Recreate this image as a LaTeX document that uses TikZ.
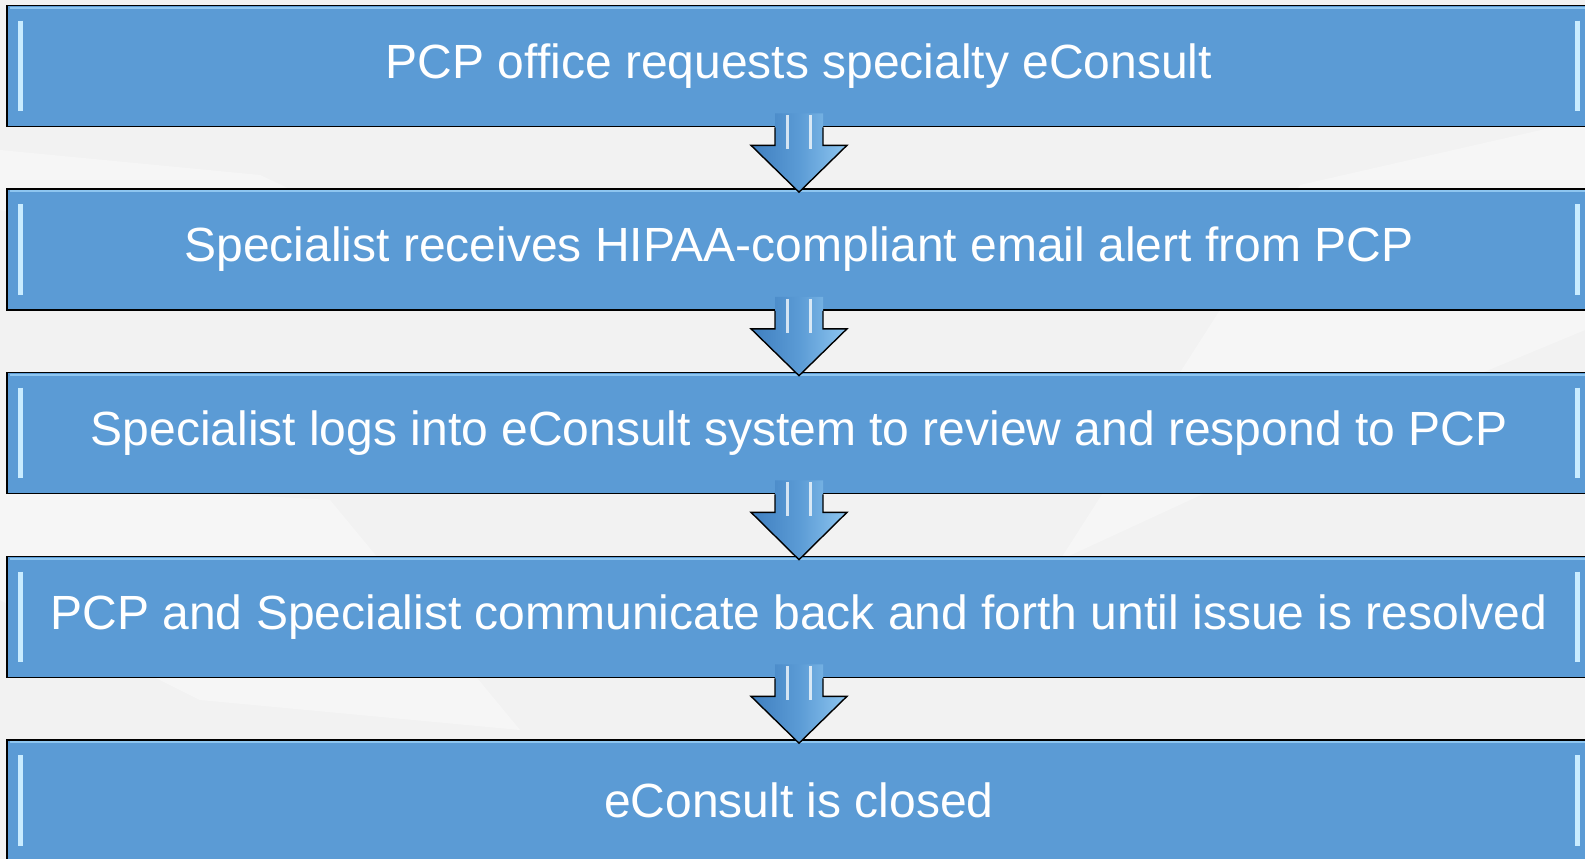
\documentclass[tikz,border=0pt]{standalone}
\usepackage{fontspec}
\setmainfont{Liberation Sans}
\definecolor{c00}{rgb}{0.00, 0.00, 0.00}
\definecolor{c01}{HTML}{5B9BD5}
\definecolor{c02}{HTML}{F2F2F2}
\definecolor{c03}{HTML}{C9ECFF}
\definecolor{c04}{HTML}{3F7FC0}
\definecolor{c05}{HTML}{8EC6F0}
\usetikzlibrary{positioning}
\usetikzlibrary{calc}
\tikzstyle{stepbox} = [draw=c00, rectangle, fill=c01, line width=1.6pt,
    minimum width=1584, minimum height=121, text=white, inner sep=0pt,
    font=\fontsize{48}{56}\selectfont]
\tikzstyle{bevel} = [draw=c03, line width=5pt]
\tikzstyle{arrowfill} = [left color=c04, right color=c05, middle color=c01]
\tikzstyle{arrowline} = [draw=c00, line width=1.4pt, line join=miter]
\tikzstyle{gloss} = [draw=white, opacity=.75, line width=3pt]
% draw a block arrow from the bottom of one step to the top of the next
\newcommand{\flowarrow}[2]{
    \path [arrowfill] ($(#1.south)+(-24,14)$) -- ($(#1.south)+(24,14)$)
        -- ($(#1.south)+(24,-18)$) -- ($(#1.south)+(48,-18)$)
        -- ($(#2.north)+(0,-4)$) -- ($(#1.south)+(-48,-18)$)
        -- ($(#1.south)+(-24,-18)$) -- cycle;
    \path [arrowline] ($(#1.south)+(-24,0)$) -- ($(#1.south)+(-24,-18)$)
        -- ($(#1.south)+(-48,-18)$) -- ($(#2.north)+(0,-4)$)
        -- ($(#1.south)+(48,-18)$) -- ($(#1.south)+(24,-18)$)
        -- ($(#1.south)+(24,0)$);
    \path [gloss] ($(#1.south)+(-12,12)$) -- ($(#1.south)+(-12,-22)$);
    \path [gloss] ($(#1.south)+(11,12)$) -- ($(#1.south)+(11,-22)$);}

\begin{document}
\begin{tikzpicture}[x=1pt, y=1pt]
     % ><>< =================== ><>< %
     % ><><     Background      ><>< %
     % ><>< =================== ><>< %
     \useasboundingbox (0,0) rectangle (1585,-859);
     \clip (0,0) rectangle (1585,-859);
     \fill [c02] (0,0) rectangle (1585,-859);
     \fill [white, opacity=.35] (0,-150) -- (260,-175) -- (420,-250)
        -- (120,-235) -- (0,-210) -- cycle;
     \fill [white, opacity=.35] (1585,-120) -- (1300,-185) -- (1060,-560)
        -- (1320,-440) -- (1585,-330) -- cycle;
     \fill [white, opacity=.35] (0,-480) -- (330,-500) -- (520,-730)
        -- (200,-700) -- (0,-600) -- cycle;
     % ><>< =================== ><>< %
     % ><><     Place nodes     ><>< %
     % ><>< =================== ><>< %
     \node [stepbox] (step1) at (799,-66)
        {PCP office requests specialty eConsult};
     \node [stepbox] (step2) at (799,-249.5)
        {Specialist receives HIPAA-compliant email alert from PCP};
     \node [stepbox] (step3) at (799,-433)
        {Specialist logs into eConsult system to review and respond to PCP};
     \node [stepbox] (step4) at (799,-617)
        {PCP and Specialist communicate back and forth until issue is resolved};
     \node [stepbox] (step5) at (799,-800.5) {eConsult is closed};
     % ><>< =================== ><>< %
     % ><><     Box bevels      ><>< %
     % ><>< =================== ><>< %
     \foreach \s in {step1,step2,step3,step4,step5} {
        \path [bevel] ($(\s.north west)+(14,-16)$)
            -- ($(\s.south west)+(14,16)$);
        \path [bevel] ($(\s.north east)+(-14,-16)$)
            -- ($(\s.south east)+(-14,16)$);
        \path [draw=c05, line width=2pt] ($(\s.north west)+(4,-3)$)
            -- ($(\s.north east)+(-4,-3)$);
     }
     % ><>< =================== ><>< %
     % ><><     Draw arrows     ><>< %
     % ><>< =================== ><>< %
     \flowarrow{step1}{step2}
     \flowarrow{step2}{step3}
     \flowarrow{step3}{step4}
     \flowarrow{step4}{step5}
  \end{tikzpicture}
\end{document}
